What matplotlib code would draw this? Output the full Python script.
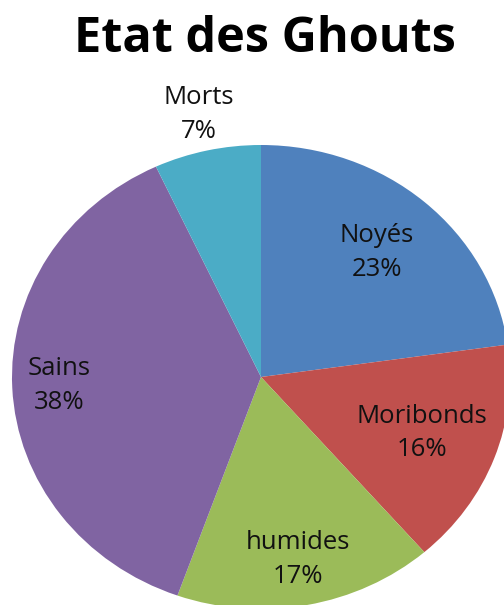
import numpy as np
import matplotlib
matplotlib.use("Agg")
import matplotlib.pyplot as plt

# Slice data, clockwise from 12 o'clock
categories = ["Noyés", "Moribonds", "humides", "Sains", "Morts"]
percentages = [23, 16, 17, 38, 7]
colors = ["#4F81BD", "#C0504D", "#9BBB59", "#8064A2", "#4BACC6"]
label_radius = [0.71, 0.69, 0.80, 0.81, 1.16]

plt.rcParams["font.family"] = ["Open Sans", "DejaVu Sans"]

fig = plt.figure(figsize=(5.04, 6.05), dpi=100)
W, H = 504, 605
cx, cy, rx, ry = 261, 377, 249, 232
ax = fig.add_axes([(cx - rx) / W, (H - cy - ry) / H, 2 * rx / W, 2 * ry / H])

wedges, _ = ax.pie(percentages, colors=colors, startangle=90, counterclock=False,
                   radius=1.0, wedgeprops=dict(linewidth=0, antialiased=True))
ax.set_aspect("auto")
ax.set_xlim(-1, 1)
ax.set_ylim(-1, 1)
ax.axis("off")

for w, name, pct, r in zip(wedges, categories, percentages, label_radius):
    mid = np.deg2rad((w.theta1 + w.theta2) / 2)
    ax.text(r * np.cos(mid), r * np.sin(mid), f"{name}\n{pct}%",
            ha="center", va="center", fontsize=18.5, color="#111111",
            linespacing=1.45, clip_on=False)

fig.text(265 / W, 1 - 52 / H, "Etat des Ghouts", ha="center", va="baseline",
         fontsize=35, fontweight="bold", color="black")

fig.savefig("out.png", dpi=100)
